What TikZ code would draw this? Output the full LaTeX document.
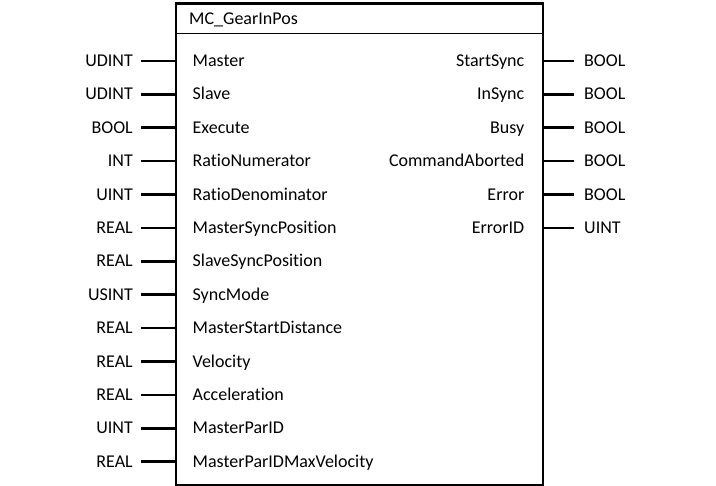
\documentclass[tikz,border=0pt]{standalone}
\usepackage{fontspec}
\setmainfont{Carlito}[Ligatures=NoCommon]
\begin{document}
\begin{tikzpicture}[x=1pt,y=-1pt,
  every node/.style={font=\fontsize{18}{20}\selectfont, inner sep=0pt},
  box/.style={draw, line width=2.4pt},
  pin/.style={line width=2.6pt},
  tl/.style={anchor=base east},
  tr/.style={anchor=base west},
  pl/.style={anchor=base west},
  pr/.style={anchor=base east}]
\useasboundingbox (0,0) rectangle (716,486);
\node[box, minimum width=367pt, minimum height=482pt, anchor=north west] (fb) at (174.5,2.5) {};
\coordinate (tl) at (174.5,34);
\coordinate (tr) at (541.5,34);
\draw[line width=1pt] (tl) -- (tr);
\node[anchor=base west] (title) at (189,24.5) {MC\_GearInPos};
% inputs
\foreach \i/\t/\n [count=\k] in {
  61/UDINT/Master, 94.4/UDINT/Slave, 127.8/BOOL/Execute, 161.2/INT/RatioNumerator,
  194.6/UINT/RatioDenominator, 228/REAL/MasterSyncPosition, 261.4/REAL/SlaveSyncPosition,
  294.8/USINT/SyncMode, 328.2/REAL/MasterStartDistance, 361.6/REAL/Velocity,
  395/REAL/Acceleration, 428.4/UINT/MasterParID, 461.8/REAL/MasterParIDMaxVelocity} {
  \node[tl] (it\k) at (133,\i+5.6) {\t};
  \node[pl] (in\k) at (192.5,\i+5.6) {\n};
  \coordinate (ia\k) at (141,\i);
  \coordinate (ib\k) at (174.5,\i);
  \draw[pin] (ia\k) -- (ib\k);
}
% outputs
\foreach \i/\t/\n [count=\k] in {
  61/BOOL/StartSync, 94.4/BOOL/InSync, 127.8/BOOL/Busy, 161.2/BOOL/CommandAborted,
  194.6/BOOL/Error, 228/UINT/ErrorID} {
  \node[pr] (on\k) at (524.5,\i+5.6) {\n};
  \node[tr] (ot\k) at (584,\i+5.6) {\t};
  \coordinate (oa\k) at (541.5,\i);
  \coordinate (ob\k) at (574,\i);
  \draw[pin] (oa\k) -- (ob\k);
}
\end{tikzpicture}
\end{document}
